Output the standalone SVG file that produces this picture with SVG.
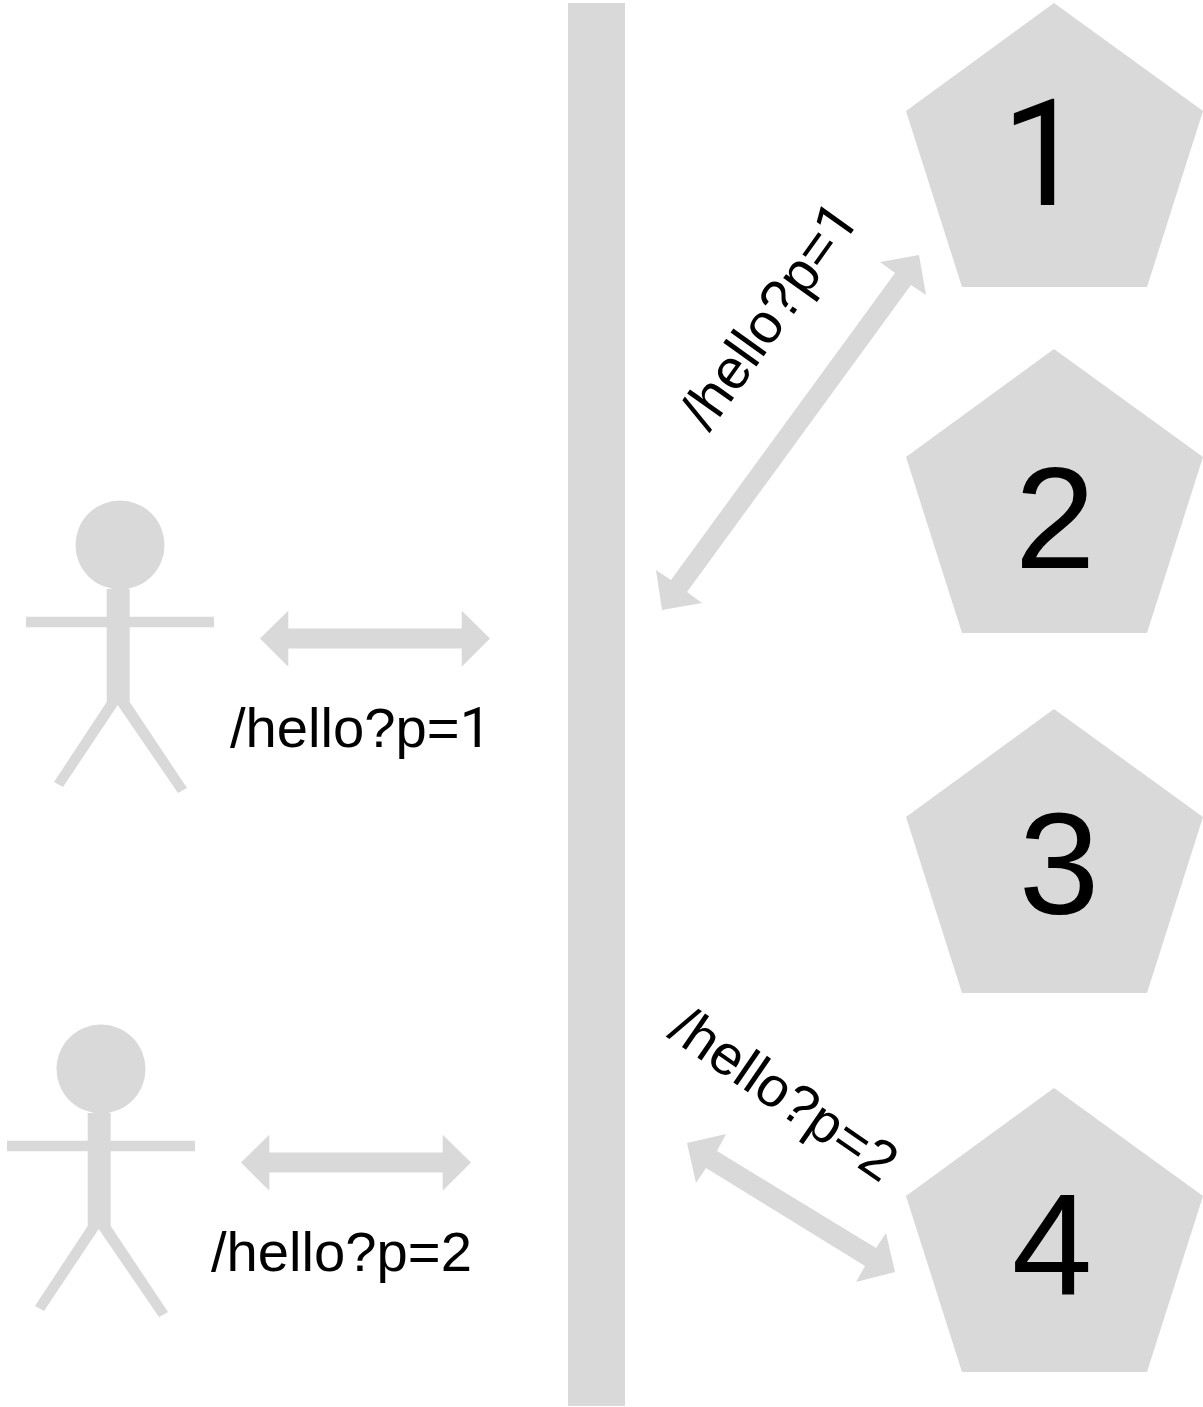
<svg xmlns="http://www.w3.org/2000/svg" width="1203" height="1407" viewBox="0 0 1203 1407">
<style>
.s{fill:#d9d9d9}
.t{font-family:"Liberation Sans",Arial,sans-serif;font-size:56.2px;fill:#000}
.n{font-family:"Liberation Sans",Arial,sans-serif;font-size:145px;fill:#000;text-anchor:middle}
.r{font-family:Roboto,"Liberation Sans",sans-serif}
</style>
<defs>
<polygon id="pent" class="s" points="1054,3 1203,111 1147,287 962,287 906,111"/>
<g id="actor"><circle class="s" cx="120" cy="545" r="44.500"/><path class="s" d="M106.700,589H129.700V616.700H214V627.300H129.700V702L187,788L178,793L117.700,705L63,787L54,782L106.700,702V627.300H26V616.700H106.700Z"/></g>
<polygon id="dbl" class="s" points="260,638.500 288.300,610.700 288.300,628.500 461.700,628.500 461.700,610.700 490,638.500 461.700,666.700 461.700,648.500 288.300,648.500 288.300,666.700"/>
</defs>
<rect id="bar" class="s" x="568" y="3" width="57" height="1403"/>
<g id="server1"><use href="#pent"/><text class="n r" x="1043" y="205" style="font-size:148px">1</text></g>
<g id="server2"><use href="#pent" y="346"/><text class="n" x="1055" y="568">2</text></g>
<g id="server3"><use href="#pent" y="706"/><text class="n" x="1059" y="914">3</text></g>
<g id="server4"><use href="#pent" y="1085"/><text class="n" x="1052" y="1295">4</text></g>
<g id="user1"><use href="#actor"/></g>
<g id="user2"><use href="#actor" x="-19" y="524"/></g>
<g id="connectors">
<use href="#dbl"/>
<use href="#dbl" x="-19" y="524"/>
<polygon class="s" points="919,255 926,295 911,285 687,592 702,603 662,610 656,570 671,580 895,273 880,262"/>
<polygon class="s" points="687,1143 726,1134 717,1151 876,1248 886,1233 895,1272 856,1282 865,1266 706,1168 696,1183"/>
</g>
<text id="label1" class="t" x="230" y="747">/hello?p=<tspan class="r">1</tspan></text>
<text id="label2" class="t" x="211" y="1271">/hello?p=2</text>
<text id="label3" class="t" transform="translate(709,433) rotate(-54.500)">/hello?p=<tspan class="r">1</tspan></text>
<text id="label4" class="t" transform="translate(666,1036) rotate(34.500)">/hello?p=2</text>
</svg>
